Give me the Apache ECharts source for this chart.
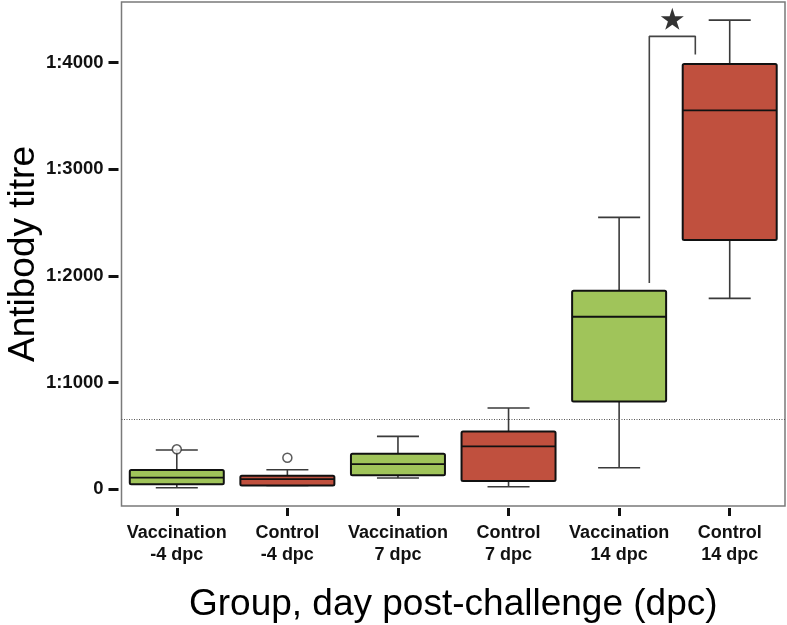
<!DOCTYPE html>
<html>
<head>
<meta charset="utf-8">
<script src="https://cdn.jsdelivr.net/npm/echarts@6/dist/echarts.min.js"></script>
<style>
html,body{margin:0;padding:0;background:#fff;}
#chart{width:787px;height:625px;}
</style>
</head>
<body>
<div id="chart"></div>
<script>
// ---- data ----
const categories = ['Vaccination\n-4 dpc', 'Control\n-4 dpc', 'Vaccination\n7 dpc', 'Control\n7 dpc', 'Vaccination\n14 dpc', 'Control\n14 dpc'];
const whiskerLow  = [15, 37, 106, 24, 202, 1789];
const q1          = [47, 37, 131, 78, 824, 2335];
const median      = [109, 96, 237, 403, 1617, 3550];
const q3          = [181, 128, 334, 543, 1860, 3984];
const whiskerHigh = [368, 184, 496, 762, 2548, 4396];
const outliers    = [[0, 375], [1, 296]];
const yTickValues = [0, 1000, 2000, 3000, 4000];
const yTickLabels = ['0', '1:1000', '1:2000', '1:3000', '1:4000'];
const thresholdValue = 656;
const bracketPoints = [[4.273, 1933], [4.273, 4244], [4.689, 4244], [4.689, 4075]];
const starPoint = [[4.481, 4408]];

const GREEN = '#a0c45a';
const RED = '#c0503e';
const FONT = '"Liberation Sans", Arial, sans-serif';

const boxData = categories.map((c, i) => [i, whiskerLow[i], q1[i], median[i], q3[i], whiskerHigh[i]]);

const chart = echarts.init(document.getElementById('chart'), null, {renderer: 'canvas'});

const option = {
  animation: false,
  grid: {
    left: 121.5, right: 2, top: 2, bottom: 119,
    outerBoundsMode: 'none',
    containLabel: false,
    show: true, borderColor: '#7a7a7a', borderWidth: 1.5, backgroundColor: 'transparent'
  },
  xAxis: [{
    type: 'category',
    data: categories,
    boundaryGap: true,
    offset: 2,
    axisLine: {show: false, onZero: false},
    axisTick: {show: true, alignWithLabel: true, length: 8, lineStyle: {color: '#111', width: 3}},
    axisLabel: {fontFamily: FONT, fontWeight: 'bold', fontSize: 18, color: '#111', lineHeight: 22, margin: 14, interval: 0},
    splitLine: {show: false},
    name: 'Group, day post-challenge (dpc)',
    nameLocation: 'middle',
    nameGap: 78,
    nameTextStyle: {fontFamily: FONT, fontSize: 37, color: '#000'}
  }, {
    type: 'value', min: -0.5, max: 5.5, show: false,
    axisLine: {onZero: false}
  }],
  yAxis: {
    type: 'value',
    min: -156, max: 4566,
    offset: 3,
    axisLine: {show: false, onZero: false},
    axisTick: {show: true, length: 10, lineStyle: {color: '#111', width: 3}, customValues: yTickValues},
    axisLabel: {
      fontFamily: FONT, fontWeight: 'bold', fontSize: 18.5, color: '#111', margin: 15,
      customValues: yTickValues,
      formatter: function (v) { const k = yTickValues.indexOf(v); return k >= 0 ? yTickLabels[k] : ''; }
    },
    splitLine: {show: false},
    name: 'Antibody titre',
    nameLocation: 'middle',
    nameMoveOverlap: false,
    nameGap: 76,
    nameTextStyle: {fontFamily: FONT, fontSize: 37, color: '#000'}
  },
  series: [{
    type: 'custom',
    xAxisIndex: 0,
    data: boxData,
    encode: {x: 0, y: [1, 2, 3, 4, 5]},
    renderItem: function (params, api) {
      const i = api.value(0);
      const lo = api.coord([i, api.value(1)]);
      const b1 = api.coord([i, api.value(2)]);
      const md = api.coord([i, api.value(3)]);
      const b3 = api.coord([i, api.value(4)]);
      const hi = api.coord([i, api.value(5)]);
      const band = api.size([1, 0])[0];
      const bw = band * 0.85, cw = band * 0.38;
      const x = lo[0];
      const fill = categories[i].indexOf('Vaccination') === 0 ? GREEN : RED;
      const wStyle = {stroke: '#3a3a3a', lineWidth: 1.6};
      return {
        type: 'group',
        children: [
          {type: 'line', shape: {x1: x, y1: b3[1], x2: x, y2: hi[1]}, style: wStyle},
          {type: 'line', shape: {x1: x, y1: b1[1], x2: x, y2: lo[1]}, style: wStyle},
          {type: 'line', shape: {x1: x - cw / 2, y1: hi[1], x2: x + cw / 2, y2: hi[1]}, style: wStyle},
          {type: 'line', shape: {x1: x - cw / 2, y1: lo[1], x2: x + cw / 2, y2: lo[1]}, style: wStyle},
          {type: 'rect', shape: {x: x - bw / 2, y: b3[1], width: bw, height: b1[1] - b3[1], r: 1.5},
            style: {fill: fill, stroke: '#111', lineWidth: 2}},
          {type: 'line', shape: {x1: x - bw / 2, y1: md[1], x2: x + bw / 2, y2: md[1]}, style: {stroke: '#111', lineWidth: 1.8}}
        ]
      };
    },
    z: 3
  }, {
    type: 'scatter',
    xAxisIndex: 0,
    data: outliers,
    symbol: 'circle',
    symbolSize: 9,
    itemStyle: {color: '#fff', borderColor: '#333', borderWidth: 1.5},
    z: 4
  }, {
    type: 'line',
    xAxisIndex: 1,
    data: bracketPoints,
    symbol: 'none',
    lineStyle: {color: '#444', width: 1.6},
    markLine: {
      silent: true,
      symbol: ['none', 'none'],
      label: {show: false},
      lineStyle: {color: '#555', type: [1, 1.5], width: 1},
      data: [{yAxis: thresholdValue}]
    },
    z: 2
  }, {
    type: 'scatter',
    xAxisIndex: 1,
    data: starPoint,
    symbol: 'path://M50,0 L61.2,34.5 L97.6,34.5 L68.2,55.9 L79.4,90.5 L50,69.1 L20.6,90.5 L31.8,55.9 L2.4,34.5 L38.8,34.5 Z',
    symbolSize: [23, 22],
    itemStyle: {color: '#000'},
    z: 5
  }]
};
chart.setOption(option);
</script>
</body>
</html>
